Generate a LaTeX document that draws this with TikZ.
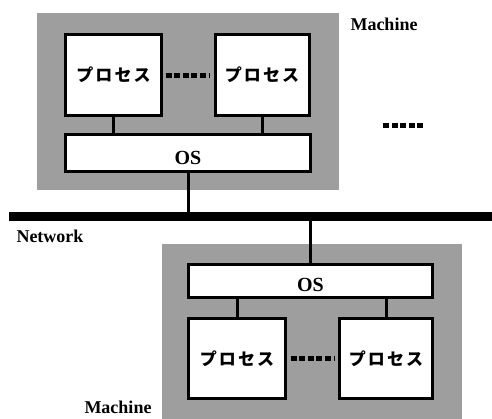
\documentclass[tikz,border=0pt]{standalone}
\usepackage{fontspec}
\setmainfont{Liberation Serif}
\newfontfamily\jp{Noto Sans CJK JP}[LetterSpace=12]
\begin{document}
\begin{tikzpicture}[x=1pt,y=-1pt,
  machine/.style={fill=black!38, draw=none, inner sep=0pt},
  box/.style={draw=black, line width=3pt, fill=white, inner sep=0pt},
  conn/.style={draw=black, line width=3pt},
  dotline/.style={draw=black, line width=5pt, dash pattern=on 6pt off 2.6pt},
  lbl/.style={font=\bfseries\fontsize{18}{20}\selectfont, inner sep=0pt},
  oslbl/.style={font=\bfseries\fontsize{20}{22}\selectfont, inner sep=0pt},
  proc/.style={box, font=\jp\bfseries\fontsize{17}{19}\selectfont}
]
\useasboundingbox (0,0) rectangle (492,418);
% top machine
\node[machine, minimum width=302pt, minimum height=177pt] (m1) at (188,101.5) {};
\node[proc, minimum width=96pt, minimum height=81pt] (p1) at (113.5,75) {プロセス};
\node[proc, minimum width=94pt, minimum height=81pt] (p2) at (262,75) {プロセス};
\node[box, minimum width=245pt, minimum height=37pt] (os1) at (188,153) {};
\node[oslbl] (os1t) at ([yshift=-5pt]os1.center) {OS};
\draw[conn] (p1.south) -- (p1.south |- os1.north);
\draw[conn] (p2.south) -- (p2.south |- os1.north);
\draw[dotline, shorten <=2.5pt, shorten >=3.5pt] (p1.east) -- (p2.west);
% network
\node[fill=black, inner sep=0pt, minimum width=483pt, minimum height=9pt] (net) at (250.5,216.5) {};
\draw[conn] (os1.south) -- (os1.south |- net.north);
\node[lbl] (netl) at (50,236) {Network};
\node[lbl] (mach1) at (384,24) {Machine};
\coordinate (d1) at (383,125);
\coordinate (d2) at (423.4,125);
\draw[dotline] (d1) -- (d2);
% bottom machine
\node[machine, minimum width=300pt, minimum height=176pt] (m2) at (312,332) {};
\node[box, minimum width=244pt, minimum height=33pt] (os2) at (310.5,281) {};
\node[oslbl] (os2t) at ([yshift=-4pt]os2.center) {OS};
\node[proc, minimum width=97pt, minimum height=80pt] (q1) at (237,358.5) {プロセス};
\node[proc, minimum width=93pt, minimum height=80pt] (q2) at (386,358.5) {プロセス};
\draw[conn] (net.south -| os2.north) -- (os2.north);
\draw[conn] (os2.south -| q1.north) -- (q1.north);
\draw[conn] (os2.south -| q2.north) -- (q2.north);
\draw[dotline, shorten <=3.5pt, shorten >=3.5pt] (q1.east) -- (q2.west);
\node[lbl] (mach2) at (118,407) {Machine};
\end{tikzpicture}
\end{document}
